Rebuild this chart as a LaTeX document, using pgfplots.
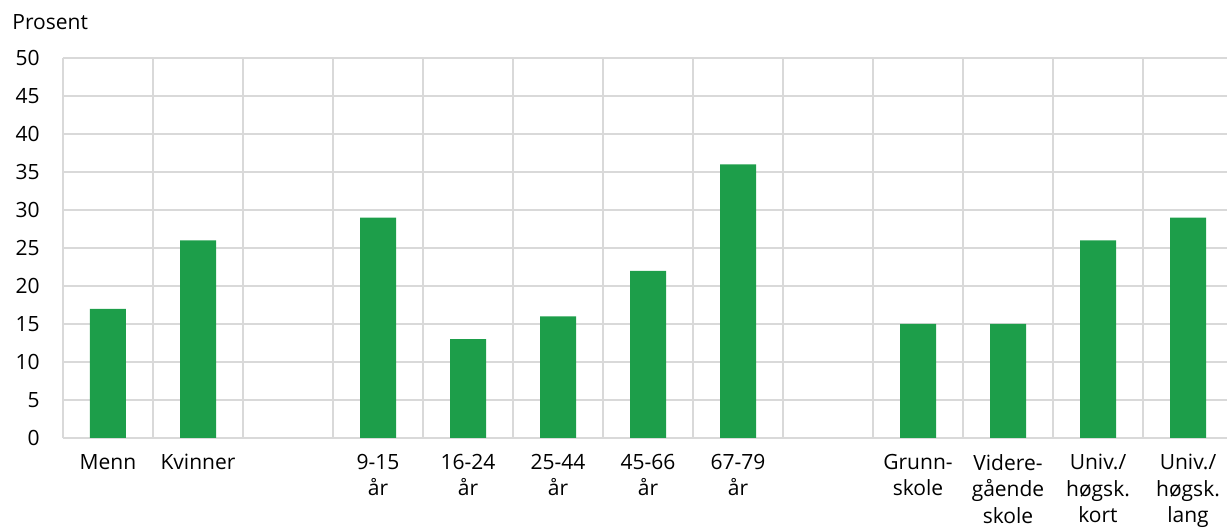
\documentclass[border=0pt]{standalone}
\usepackage{fontspec}
\setmainfont{Open Sans}
\usepackage{pgfplots}
\pgfplotsset{compat=1.18}
\definecolor{barg}{RGB}{29,158,74}
\definecolor{gridg}{RGB}{217,217,217}
\begin{document}
\begin{tikzpicture}
\begin{axis}[name=ax, scale only axis, width=585pt, height=190pt,
 xmin=-0.5, xmax=12.5, ymin=0, ymax=50,
 ytick={0,5,...,50}, xtick={0,...,12},
 xticklabels={Menn,Kvinner,,{9-15\\år},{16-24\\år},{25-44\\år},{45-66\\år},{67-79\\år},,{Grunn-\\skole},{Videre-\\gående\\skole},{Univ./\\høgsk.\\kort},{Univ./\\høgsk.\\lang}},
 minor xtick={-0.5,0.5,...,11.5},
 xminorgrids, ymajorgrids,
 grid style={gridg, line width=1pt},
 minor grid style={gridg, line width=1pt},
 axis line style={draw=none},
 major tick length=0pt, minor tick length=0pt,
 tick style={draw=none},
 tick label style={font=\fontsize{10.5}{13.2}\selectfont},
 xticklabel style={align=center, anchor=north, inner sep=0pt, yshift=-8pt},
 yticklabel style={anchor=east, inner sep=0pt, xshift=-11.5pt},
 /pgf/number format/assume math mode=true,
 ybar, bar width=18pt,
]
\addplot[fill=barg, draw=none] coordinates {(0,17) (1,26) (3,29) (4,13) (5,16) (6,22) (7,36) (9,15) (10,15) (11,26) (12,29)};
\end{axis}
\node[anchor=base west, inner sep=0pt, font=\fontsize{10.5}{13.2}\selectfont] at ([xshift=-25.5pt,yshift=14.25pt]ax.north west) {Prosent};
\pgfresetboundingbox
\path[use as bounding box] ([xshift=-31.5pt,yshift=-45pt]ax.south west) rectangle ++(613.5pt,264pt);
\end{tikzpicture}
\end{document}
